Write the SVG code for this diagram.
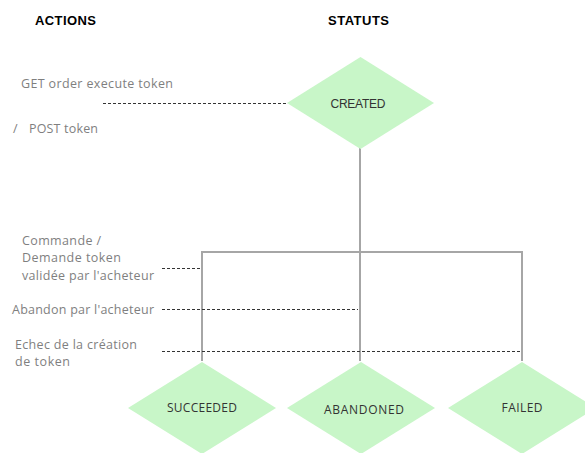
<svg xmlns="http://www.w3.org/2000/svg" width="585" height="453" viewBox="0 0 585 453">
<style>
.bg{fill:#ffffff}
.dia{fill:#c8f6c8;stroke:none}
.hdr{font-family:"Liberation Sans",Arial,sans-serif;font-weight:bold;font-size:13px;fill:#000}
.act{font-family:"Open Sans","Noto Sans",sans-serif;font-size:12.5px;fill:#7f7f7f}
.lbl{font-family:"Liberation Sans",Arial,sans-serif;font-size:12px;fill:#333333;text-anchor:middle}
.lbl2{font-family:"Open Sans","Noto Sans",sans-serif;font-size:12px;fill:#333333;text-anchor:middle}
.conn{stroke:#a6a6a6;stroke-width:2;fill:none}
.dash{stroke:#333333;stroke-width:1;stroke-dasharray:3,2;fill:none}
</style>
<rect class="bg" x="0" y="0" width="585" height="453"/>
<g id="headers">
<text class="hdr" x="35" y="25" textLength="61">ACTIONS</text>
<text class="hdr" x="328" y="25" textLength="61">STATUTS</text>
</g>
<g id="actions">
<text class="act" x="21" y="88" textLength="152">GET order execute token</text>
<text class="act" x="13" y="133">/</text>
<text class="act" x="29" y="133" textLength="69">POST token</text>
<text class="act" x="22" y="245" textLength="79">Commande /</text>
<text class="act" x="22" y="262" textLength="99">Demande token</text>
<text class="act" x="22" y="280" textLength="132">validée par l'acheteur</text>
<text class="act" x="12" y="314" textLength="142">Abandon par l'acheteur</text>
<text class="act" x="15" y="349" textLength="122">Echec de la création</text>
<text class="act" x="15" y="366" textLength="55">de token</text>
</g>
<g id="connectors">
<path class="conn" d="M360,148 V361"/>
<path class="conn" d="M202,361 V252 H522 V361"/>
<path class="dash" d="M103,103.5 H287"/>
<path class="dash" d="M162,268.5 H202"/>
<path class="dash" d="M162,309.5 H358"/>
<path class="dash" d="M162,351.5 H522"/>
</g>
<g id="created">
<polygon class="dia" points="360.5,57 434,103 360.5,149 287,103"/>
<text class="lbl" x="358" y="108" textLength="55">CREATED</text>
</g>
<g id="succeeded">
<polygon class="dia" points="202,362 276,408 202,454 128,408"/>
<text class="lbl2" x="202" y="412" textLength="70">SUCCEEDED</text>
</g>
<g id="abandoned">
<polygon class="dia" points="361,362 435,408 361,454 287,408"/>
<text class="lbl2" x="364" y="414" textLength="80">ABANDONED</text>
</g>
<g id="failed">
<polygon class="dia" points="522,362 596,408 522,454 448,408"/>
<text class="lbl2" x="522" y="412" textLength="41">FAILED</text>
</g>
</svg>
